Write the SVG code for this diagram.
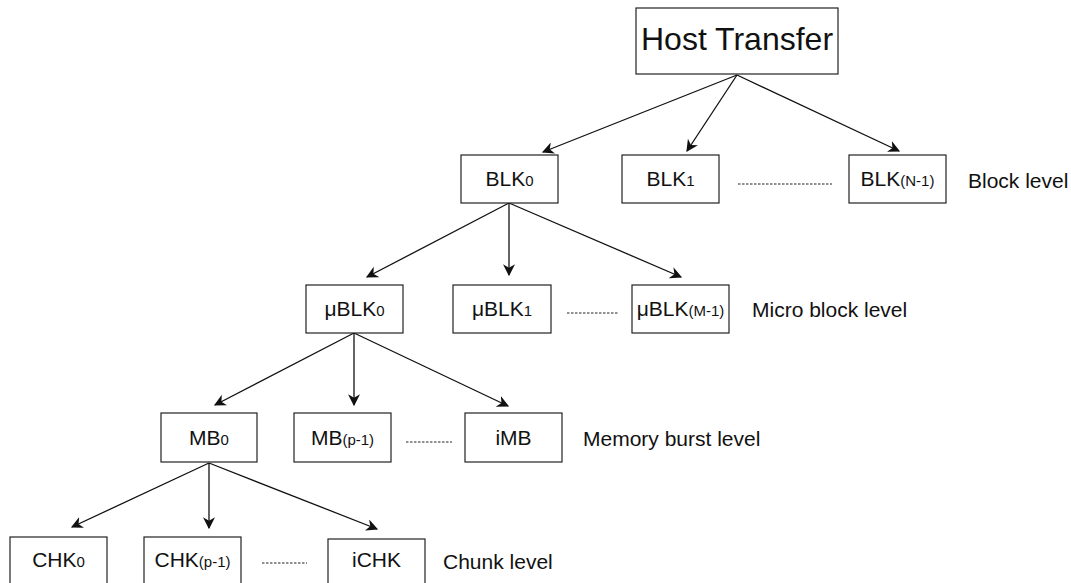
<svg xmlns="http://www.w3.org/2000/svg" width="1071" height="583" viewBox="0 0 1071 583">
<defs>
<style>
.box{fill:#fff;stroke:#222;stroke-width:1.2}
.t{font-family:"Liberation Sans",Arial,sans-serif;font-size:21px;fill:#111;text-anchor:middle}
.s{font-size:15px}
.lbl{font-family:"Liberation Sans",Arial,sans-serif;font-size:21px;fill:#111}
.edge{stroke:#111;stroke-width:1.3;fill:none;marker-end:url(#arr)}
.dots{stroke:#222;stroke-width:1;stroke-dasharray:2.5 1.5;fill:none}
</style>
<marker id="arr" viewBox="0 0 10 10" refX="9" refY="5" markerWidth="12" markerHeight="12" markerUnits="userSpaceOnUse" orient="auto">
<path d="M0,0 L10,5 L0,10 L3,5 Z" fill="#111"/>
</marker>
</defs>

<g id="connectors">
<line class="edge" x1="737" y1="75" x2="543" y2="152"/>
<line class="edge" x1="737" y1="75" x2="687" y2="151"/>
<line class="edge" x1="737" y1="75" x2="899" y2="151"/>
<line class="edge" x1="509" y1="203" x2="367" y2="277"/>
<line class="edge" x1="509" y1="203" x2="509" y2="275"/>
<line class="edge" x1="509" y1="203" x2="681" y2="277"/>
<line class="edge" x1="354" y1="333" x2="215" y2="405"/>
<line class="edge" x1="354" y1="333" x2="354" y2="405"/>
<line class="edge" x1="354" y1="333" x2="508" y2="406"/>
<line class="edge" x1="209" y1="463" x2="72" y2="527"/>
<line class="edge" x1="209" y1="463" x2="209" y2="528"/>
<line class="edge" x1="209" y1="463" x2="377" y2="529"/>
<line class="dots" x1="738" y1="184" x2="832" y2="184"/>
<line class="dots" x1="567" y1="313" x2="618" y2="313"/>
<line class="dots" x1="406" y1="442" x2="452" y2="442"/>
<line class="dots" x1="262" y1="563" x2="307" y2="563"/>
</g>

<g id="host">
<rect class="box" x="636" y="8" width="202" height="66"/>
<text class="t" x="737" y="50" style="font-size:32px">Host Transfer</text>
</g>

<g id="blk0"><rect class="box" x="461" y="155" width="97" height="48"/><text class="t" x="509.5" y="186">BLK<tspan class="s">0</tspan></text></g>
<g id="blk1"><rect class="box" x="622" y="155" width="97" height="48"/><text class="t" x="670.5" y="186">BLK<tspan class="s">1</tspan></text></g>
<g id="blkn"><rect class="box" x="849" y="155" width="97" height="48"/><text class="t" x="897.5" y="186">BLK<tspan class="s">(N-1)</tspan></text></g>
<text class="lbl" x="968" y="188">Block level</text>

<g id="ublk0"><rect class="box" x="306" y="285" width="97" height="48"/><text class="t" x="354.5" y="316">μBLK<tspan class="s">0</tspan></text></g>
<g id="ublk1"><rect class="box" x="453" y="285" width="98" height="48"/><text class="t" x="502" y="316">μBLK<tspan class="s">1</tspan></text></g>
<g id="ublkm"><rect class="box" x="632" y="285" width="97" height="48"/><text class="t" x="680.5" y="316">μBLK<tspan class="s">(M-1)</tspan></text></g>
<text class="lbl" x="752" y="317">Micro block level</text>

<g id="mb0"><rect class="box" x="161" y="413" width="96" height="49"/><text class="t" x="209" y="445">MB<tspan class="s">0</tspan></text></g>
<g id="mbp"><rect class="box" x="294" y="413" width="97" height="49"/><text class="t" x="342.5" y="445">MB<tspan class="s">(p-1)</tspan></text></g>
<g id="imb"><rect class="box" x="465" y="413" width="97" height="49"/><text class="t" x="513.5" y="445">iMB</text></g>
<text class="lbl" x="583" y="446">Memory burst level</text>

<g id="chk0"><rect class="box" x="10" y="537" width="97" height="48"/><text class="t" x="58.5" y="567">CHK<tspan class="s">0</tspan></text></g>
<g id="chkp"><rect class="box" x="144" y="537" width="97" height="48"/><text class="t" x="192.5" y="567">CHK<tspan class="s">(p-1)</tspan></text></g>
<g id="ichk"><rect class="box" x="328" y="539" width="97" height="48"/><text class="t" x="376.5" y="567">iCHK</text></g>
<text class="lbl" x="443" y="569">Chunk level</text>
</svg>
